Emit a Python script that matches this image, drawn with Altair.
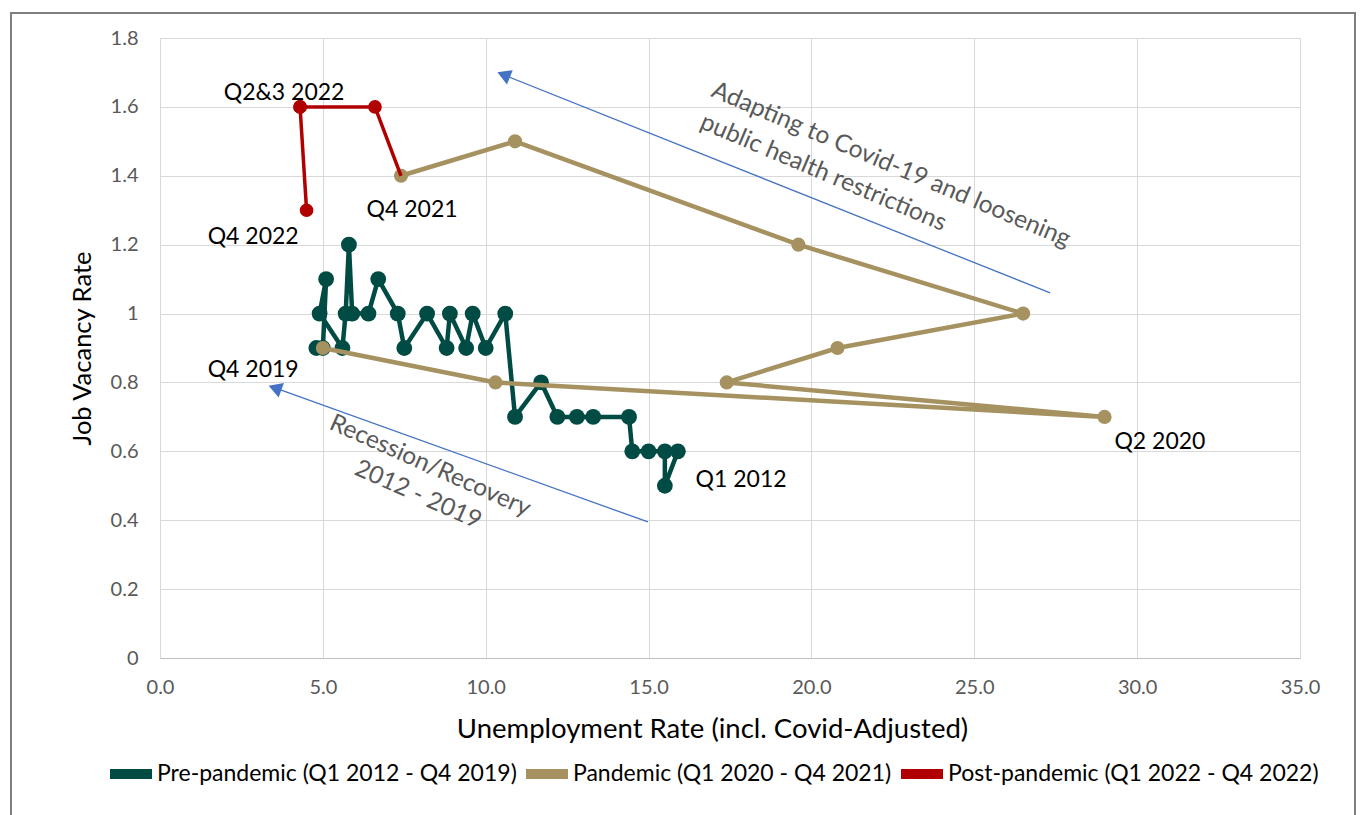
import math
import altair as alt
import pandas as pd

# Quarterly unemployment rate (x) vs job vacancy rate (y), by period
pre_x = [15.9, 15.5, 15.5, 15.0, 14.5, 14.4, 13.3, 12.8, 12.2, 11.7, 10.9, 10.6,
         10.0, 9.6, 9.4, 8.9, 8.8, 8.2, 7.5, 7.3, 6.7, 6.4, 5.9, 5.8, 5.7, 5.6,
         4.9, 5.1, 5.0, 4.8]
pre_y = [0.6, 0.5, 0.6, 0.6, 0.6, 0.7, 0.7, 0.7, 0.7, 0.8, 0.7, 1.0,
         0.9, 1.0, 0.9, 1.0, 0.9, 1.0, 0.9, 1.0, 1.1, 1.0, 1.0, 1.2, 1.0, 0.9,
         1.0, 1.1, 0.9, 0.9]

pan_x = [5.0, 10.3, 29.0, 17.4, 20.8, 26.5, 19.6, 10.9, 7.4]
pan_y = [0.9, 0.8, 0.7, 0.8, 0.9, 1.0, 1.2, 1.5, 1.4]

# post-pandemic path starts from the Q4 2021 observation (no marker there)
post_x = [7.4, 6.6, 4.3, 4.3, 4.5]
post_y = [1.4, 1.6, 1.6, 1.6, 1.3]
post_marker = [False, True, True, True, True]

series_names = ["Pre-pandemic (Q1 2012 - Q4 2019)",
                "Pandemic (Q1 2020 - Q4 2021)",
                "Post-pandemic (Q1 2022 - Q4 2022)"]
series_colors = ["#004B44", "#A69261", "#B00000"]
line_widths = [4.5, 4.5, 3.5]
point_sizes = [250, 200, 185]

# quarter labels (text, x, y)
label_text = ["Q2&3 2022", "Q4 2021", "Q4 2022", "Q4 2019", "Q2 2020", "Q1 2012"]
label_x = [3.81, 7.74, 2.86, 2.86, 30.70, 17.84]
label_y = [1.64, 1.30, 1.222, 0.836, 0.627, 0.517]

# trend arrows (tail -> head)
arrow_x0 = [27.33, 14.98]
arrow_y0 = [1.060, 0.395]
arrow_x1 = [10.55, 3.53]
arrow_y1 = [1.693, 0.784]

note_text = ["Adapting to Covid-19 and loosening", "public health restrictions",
             "Recession/Recovery", "2012 - 2019"]
note_x = [22.44, 20.36, 8.29, 7.92]
note_y = [1.431, 1.408, 0.557, 0.473]
note_angle = [23, 23, 24, 24]

W, H = 1140, 620
X_MAX, Y_MAX = 35, 1.8
FONT = "Lato"

rows = []
for name, xs, ys, marks in [
    (series_names[0], pre_x, pre_y, [True] * len(pre_x)),
    (series_names[1], pan_x, pan_y, [True] * len(pan_x)),
    (series_names[2], post_x, post_y, post_marker),
]:
    for i, (a, b, m) in enumerate(zip(xs, ys, marks)):
        rows.append({"series": name, "x": a, "y": b, "seq": i, "marker": m})
df = pd.DataFrame(rows)

xscale = alt.Scale(domain=[0, X_MAX], nice=False, zero=True)
yscale = alt.Scale(domain=[0, Y_MAX], nice=False, zero=True)
cscale = alt.Scale(domain=series_names, range=series_colors)

xax = alt.Axis(title="Unemployment Rate (incl. Covid-Adjusted)", values=[0, 5, 10, 15, 20, 25, 30, 35],
               format=".1f", grid=True, gridColor="#D9D9D9", domain=True, domainColor="#BFBFBF",
               ticks=False, labelFlush=False, labelPadding=19, titlePadding=18,
               labelFontSize=20, titleFontSize=27.5, titleX=552,
               labelColor="#595959", titleColor="#000000", labelFont=FONT, titleFont=FONT,
               titleFontWeight="normal")
yax = alt.Axis(title="Job Vacancy Rate", values=[0, 0.2, 0.4, 0.6, 0.8, 1.0, 1.2, 1.4, 1.6, 1.8],
               format="~g", grid=True, gridColor="#D9D9D9", domain=False, ticks=False,
               labelFlush=False, labelPadding=22, titlePadding=15, labelFontSize=20, titleFontSize=25.5,
               labelColor="#595959", titleColor="#000000", labelFont=FONT, titleFont=FONT,
               titleFontWeight="normal")

# one shared legend: wide filled swatches in the series colour
legend = alt.Legend(
    title=None, orient="none", direction="horizontal", legendX=-50, legendY=715,
    symbolType="M-1,-0.24H1V0.24H-1Z", symbolSize=1764, symbolOpacity=1, symbolStrokeWidth=0,
    labelFontSize=23, labelFont=FONT, labelColor="#000000",
    labelOffset=5, columnPadding=9, labelLimit=600,
)


def X(field):
    return alt.X(field, type="quantitative", scale=xscale, axis=xax)


def Y(field):
    return alt.Y(field, type="quantitative", scale=yscale, axis=yax)


base = alt.Chart(df)
series_layers = []
for name, col, w, s in zip(series_names, series_colors, line_widths, point_sizes):
    sub = base.transform_filter(alt.datum.series == name)
    series_layers.append(
        sub.mark_line(strokeWidth=w, color=col).encode(x=X("x"), y=Y("y"), order="seq:Q")
    )
    series_layers.append(
        sub.transform_filter(alt.datum.marker).mark_point(filled=True, size=s, opacity=1).encode(
            x=X("x"), y=Y("y"),
            color=alt.Color("series:N", scale=cscale, legend=legend))
    )

lab = alt.Chart(pd.DataFrame({"t": label_text, "x": label_x, "y": label_y})).mark_text(
    fontSize=23, font=FONT, color="#000000", align="center", baseline="middle"
).encode(x=X("x"), y=Y("y"), text="t:N")

# arrow heads point along the shaft direction in screen space
px_per_x = W / X_MAX
px_per_y = H / Y_MAX
head_angle = []
for x0, y0, x1, y1 in zip(arrow_x0, arrow_y0, arrow_x1, arrow_y1):
    dx = (x1 - x0) * px_per_x
    dy = -(y1 - y0) * px_per_y
    head_angle.append((math.degrees(math.atan2(dx, -dy)) + 360) % 360)

arrows = pd.DataFrame({"x0": arrow_x0, "y0": arrow_y0, "x1": arrow_x1, "y1": arrow_y1,
                       "ang": head_angle})
shaft = alt.Chart(arrows).mark_rule(color="#4472C4", strokeWidth=1.3).encode(
    x=X("x0"), y=Y("y0"), x2="x1:Q", y2="y1:Q")
head = alt.Chart(arrows).mark_point(shape="triangle-up", filled=True, size=240, color="#4472C4",
                                    opacity=1).encode(x=X("x1"), y=Y("y1"),
                                                      angle=alt.Angle("ang:Q", scale=None))

notes = pd.DataFrame({"t": note_text, "x": note_x, "y": note_y})
note_layers = [
    alt.Chart(notes.iloc[[i]]).mark_text(fontSize=24.5, font=FONT, color="#595959", align="center",
                                         baseline="middle", angle=int(note_angle[i])).encode(
        x=X("x"), y=Y("y"), text="t:N")
    for i in range(len(note_text))
]

# outer frame around the whole figure
frame = alt.Chart(pd.DataFrame({"k": [0]})).mark_rect(
    filled=False, stroke="#7F7F7F", strokeWidth=2, clip=False
).encode(x=alt.value(-149), x2=alt.value(1195), y=alt.value(-25), y2=alt.value(820))

chart = alt.layer(*series_layers, shaft, head, *note_layers, lab, frame).properties(
    width=W, height=H,
    autosize=alt.AutoSizeParams(type="none"),
    padding={"left": 160, "top": 38, "right": 62, "bottom": 157},
).configure_view(stroke=None).configure(background="white")

chart.save("out.html", embed_options={"renderer": "svg", "actions": False})
